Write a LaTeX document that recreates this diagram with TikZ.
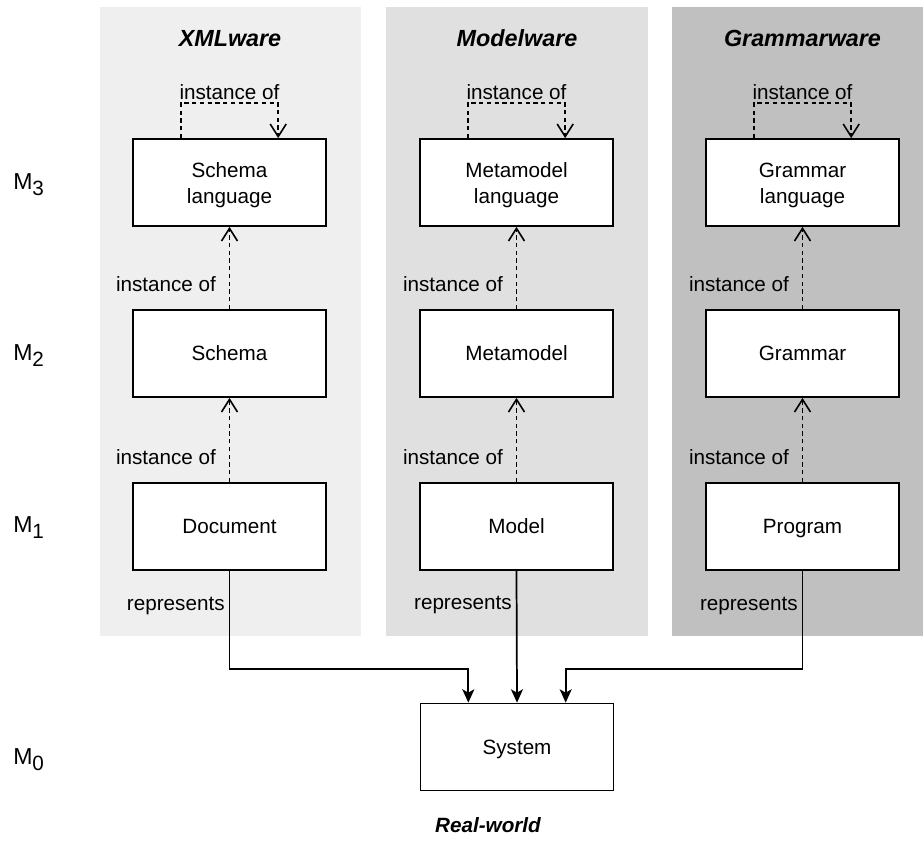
\documentclass[tikz,border=0pt]{standalone}
\usepackage{fontspec}
\setmainfont{Liberation Sans}
\usetikzlibrary{arrows.meta,calc}

\definecolor{xmlbg}{HTML}{EFEFEF}
\definecolor{modelbg}{HTML}{E0E0E0}
\definecolor{grammarbg}{HTML}{C0C0C0}

\newcommand{\txtfont}{\fontsize{15.5}{19.5}\selectfont}
\newcommand{\ttlfont}{\fontsize{17.5}{21}\selectfont\bfseries\itshape}
\newcommand{\realfont}{\fontsize{15.5}{18}\selectfont\bfseries\itshape}
% two-line box text, nudged down a little inside its box
\newcommand{\twol}[2]{\rule{0pt}{15.5pt}#1\\#2}

\tikzset{
  stagebox/.style={draw, line width=1.3pt, fill=white,
    minimum width=144.75pt, minimum height=65.25pt,
    align=center, inner sep=0pt, font=\txtfont},
  onebox/.style={stagebox, text height=11.2pt, text depth=0pt},
  instline/.style={line width=1.3pt, dash pattern=on 3.2pt off 2.6pt,
    -{Straight Barb[length=9.5pt,width=12pt,line width=1.2pt]}},
  repline/.style={line width=1.3pt,
    -{Stealth[length=10pt,width=9pt,inset=2.5pt]}},
  linklabel/.style={font=\txtfont, inner sep=0pt},
  title/.style={font=\ttlfont, anchor=base},
  level/.style={anchor=base west, inner sep=0pt}
}

\newcommand{\lvl}[1]{{\fontsize{17.3}{20}\selectfont M}\raisebox{-4.5pt}{\fontsize{15.5}{18}\selectfont #1}}

\begin{document}
\begin{tikzpicture}[x=0.75pt,y=-0.75pt]
\useasboundingbox (0,0) rectangle (923,840);

% technical spaces
\fill[xmlbg]     (100,7) rectangle (361,636);
\fill[modelbg]   (386,7) rectangle (648,636);
\fill[grammarbg] (672,7) rectangle (923,636);

\node[title] (txml)  at (230,46)   {XMLware};
\node[title] (tmod)  at (517,46)   {Modelware};
\node[title] (tgram) at (802.5,46) {Grammarware};
\node[title, font=\realfont] (treal) at (488,832) {Real-world};

% meta-levels
\node[level] (m3) at (13,189) {\lvl{3}};
\node[level] (m2) at (13,360) {\lvl{2}};
\node[level] (m1) at (13,532) {\lvl{1}};
\node[level] (m0) at (13,764) {\lvl{0}};

% XMLware stack
\node[stagebox] (x3) at (229.5,182.5) {\twol{Schema}{language}};
\node[onebox] (x2) at (229.5,353.5) {Schema};
\node[onebox] (x1) at (229.5,526.5) {Document};

% Modelware stack
\node[stagebox] (d3) at (516.5,182.5) {\twol{Metamodel}{language}};
\node[onebox] (d2) at (516.5,353.5) {Metamodel};
\node[onebox] (d1) at (516.5,526.5) {Model};

% Grammarware stack
\node[stagebox] (g3) at (802.5,182.5) {\twol{Grammar}{language}};
\node[onebox] (g2) at (802.5,353.5) {Grammar};
\node[onebox] (g1) at (802.5,526.5) {Program};

% real world
\node[onebox] (sys) at (517,747) {System};

% instance-of relations
\foreach \c in {x,d,g}{
  \draw[instline] ($(\c3.north west)!0.25!(\c3.north east)$) -- ++(0,-35)
    -| node[pos=0.25, above, linklabel, inner sep=2pt] {instance of}
    ($(\c3.north west)!0.75!(\c3.north east)$);
  \draw[instline] (\c2.north) -- node[pos=0.31, left=9.5pt, linklabel] {instance of} (\c3.south);
  \draw[instline] (\c1.north) -- node[pos=0.30, left=9.5pt, linklabel] {instance of} (\c2.south);
}

% represents relations
\coordinate (bend) at (0,669);
\coordinate (sysL) at ($(sys.north west)!0.25!(sys.north east)$);
\coordinate (sysR) at ($(sys.north west)!0.75!(sys.north east)$);
\draw[repline] (x1.south) -- node[pos=0.36, left=3pt, linklabel] {represents} (x1.south |- bend) -| (sysL);
\draw[repline] (d1.south) -- node[pos=0.26, left=3pt, linklabel] {represents} (sys.north);
\draw[repline] (g1.south) -- node[pos=0.36, left=3pt, linklabel] {represents} (g1.south |- bend) -| (sysR);
\end{tikzpicture}
\end{document}
